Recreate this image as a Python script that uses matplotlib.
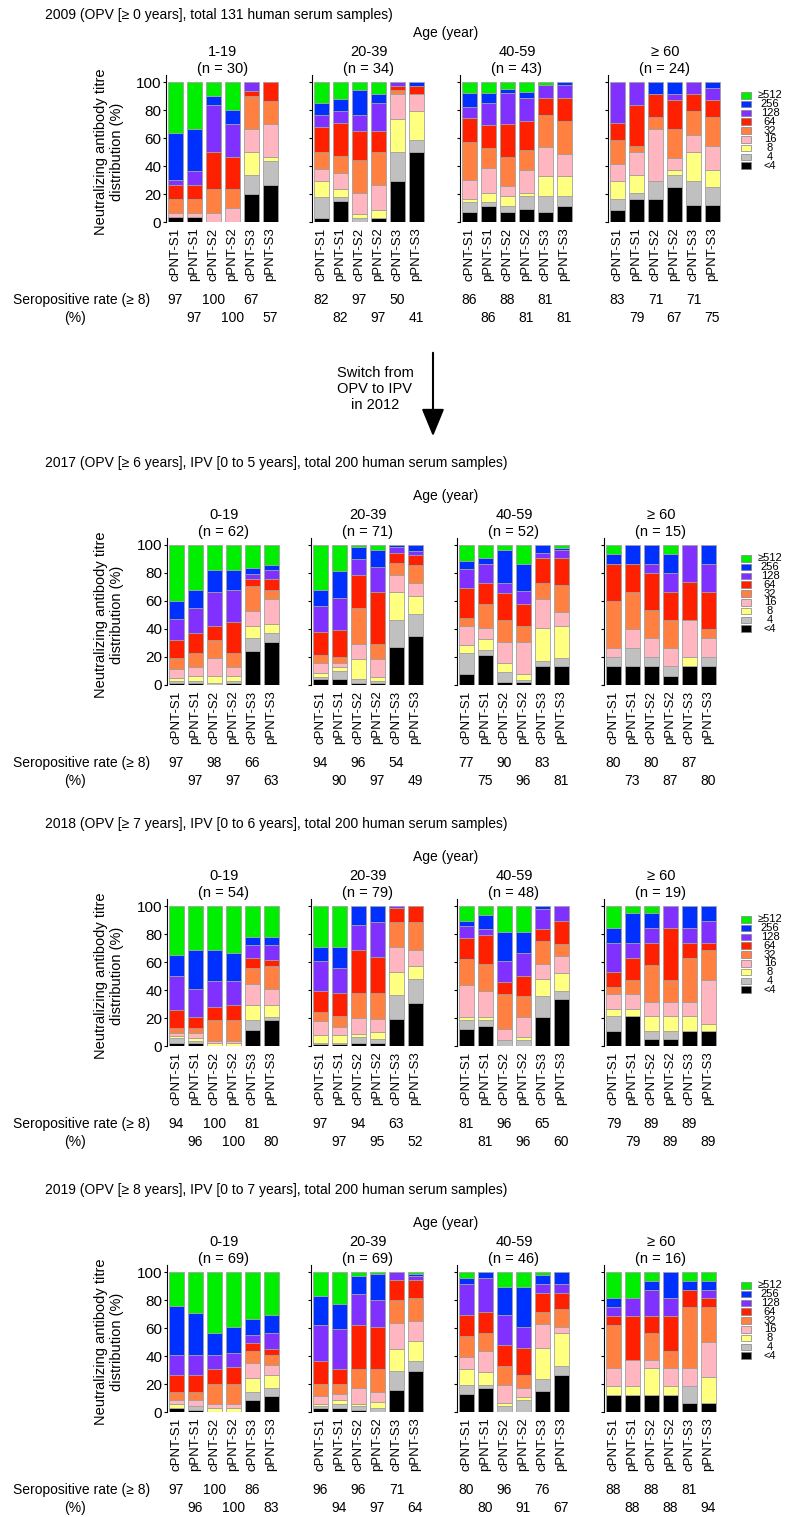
import matplotlib.pyplot as plt

plt.rcParams['font.family'] = ['Liberation Sans', 'DejaVu Sans']

W, H = 788, 1517

titres = ['<4', '4', '8', '16', '32', '64', '128', '256', '≥512']
colors = ['#000000', '#c0c0c0', '#ffff80', '#ffb6c1', '#ff8040',
          '#ff2000', '#8030ff', '#0030ff', '#00ee00']
strains = ['cPNT-S1', 'pPNT-S1', 'cPNT-S2', 'pPNT-S2', 'cPNT-S3', 'pPNT-S3']

# cumulative % of samples at or below each titre (<4, 4, 8, 16, 32, 64, 128, 256); the rest is >=512
c2009_1 = [[3.3, 3.3, 3.3, 6.7, 16.7, 26.7, 30.0, 63.3],
           [3.3, 3.3, 3.3, 6.7, 16.7, 26.7, 36.7, 66.7],
           [0, 0, 0, 6.7, 23.3, 50.0, 83.3, 90.0],
           [0, 0, 0, 10.0, 23.3, 46.7, 70.0, 80.0],
           [20.0, 33.3, 50.0, 66.7, 90.0, 93.3, 100, 100],
           [26.7, 43.3, 46.7, 70.0, 86.7, 100, 100, 100]]
c2009_2 = [[2.9, 17.6, 29.4, 38.2, 50.0, 67.6, 76.5, 85.3],
           [14.7, 17.6, 23.5, 35.3, 47.1, 70.6, 79.4, 88.2],
           [0, 2.9, 5.9, 20.6, 44.1, 64.7, 76.5, 94.1],
           [2.9, 2.9, 8.8, 26.5, 50.0, 64.7, 85.3, 91.2],
           [29.4, 50.0, 73.5, 91.2, 94.1, 97.1, 100, 100],
           [50.0, 58.8, 79.4, 91.2, 91.2, 97.1, 97.1, 100]]
c2009_3 = [[7.0, 14.0, 16.3, 30.2, 57.4, 74.0, 82.4, 91.9],
           [11.6, 14.0, 20.9, 38.8, 53.0, 69.3, 84.8, 91.9],
           [7.0, 11.6, 18.6, 25.6, 46.5, 69.8, 91.9, 95.3],
           [9.3, 18.6, 20.9, 37.2, 51.2, 72.1, 88.4, 93.0],
           [7.0, 18.6, 32.6, 53.5, 76.7, 88.4, 97.7, 97.7],
           [11.6, 18.6, 32.6, 48.8, 72.1, 88.4, 97.7, 100]]
c2009_4 = [[8.3, 16.7, 29.2, 41.7, 58.3, 70.8, 100, 100],
           [16.7, 20.8, 33.3, 50.0, 54.2, 83.3, 100, 100],
           [16.7, 29.2, 29.2, 66.7, 75.0, 91.7, 91.7, 100],
           [25.0, 33.3, 37.5, 45.8, 66.7, 87.5, 91.7, 100],
           [12.5, 29.2, 50.0, 62.5, 79.2, 91.7, 100, 100],
           [12.5, 25.0, 37.5, 54.2, 75.0, 87.5, 95.8, 100]]

c2017_1 = [[1.6, 3.2, 4.8, 11.3, 19.4, 32.3, 46.8, 59.7],
           [1.6, 3.2, 6.5, 12.9, 22.6, 37.1, 54.8, 67.7],
           [0, 1.6, 6.5, 19.4, 32.3, 41.9, 66.1, 82.3],
           [1.6, 3.2, 6.5, 12.9, 22.6, 45.2, 67.7, 82.3],
           [24.2, 33.9, 41.9, 53.2, 70.5, 75.8, 79.0, 83.9],
           [30.6, 37.1, 43.5, 61.3, 67.7, 75.8, 82.3, 85.5]]
c2017_2 = [[4.2, 5.6, 8.5, 15.5, 21.1, 38.0, 56.3, 67.6],
           [4.2, 9.9, 12.7, 15.5, 19.7, 39.4, 62.0, 81.7],
           [1.4, 4.2, 18.3, 29.6, 54.9, 78.9, 90.1, 98.6],
           [1.4, 2.8, 5.6, 18.3, 29.6, 66.2, 84.5, 96.2],
           [26.8, 46.5, 66.2, 78.9, 87.3, 94.4, 98.6, 100],
           [35.2, 50.7, 63.4, 73.2, 85.9, 93.0, 95.8, 100]]
c2017_3 = [[7.7, 23.1, 28.8, 42.3, 48.1, 69.2, 82.7, 88.5],
           [21.2, 25.0, 32.7, 40.4, 57.7, 73.1, 86.5, 90.4],
           [1.9, 9.6, 15.4, 30.8, 46.2, 65.4, 73.1, 96.2],
           [1.9, 3.8, 7.7, 30.8, 42.3, 57.7, 67.3, 86.5],
           [13.5, 17.3, 40.4, 61.5, 73.1, 90.4, 94.2, 100],
           [13.5, 19.2, 42.3, 51.9, 71.2, 90.4, 96.2, 98.1]]
c2017_4 = [[13.3, 20.0, 20.0, 26.7, 60.0, 86.7, 86.7, 93.3],
           [13.3, 26.7, 26.7, 40.0, 66.7, 86.7, 86.7, 100],
           [13.3, 20.0, 20.0, 33.3, 53.3, 80.0, 86.7, 100],
           [6.7, 13.3, 13.3, 26.7, 46.7, 66.7, 80.0, 93.3],
           [13.3, 13.3, 20.0, 46.7, 46.7, 73.3, 100, 100],
           [13.3, 20.0, 20.0, 33.3, 40.0, 66.7, 86.7, 100]]

c2018_1 = [[1.9, 5.6, 7.4, 9.3, 13.0, 25.9, 50.0, 64.8],
           [1.9, 3.7, 5.6, 9.3, 13.0, 20.4, 40.7, 68.5],
           [0, 0, 1.9, 3.7, 18.5, 27.8, 46.3, 68.5],
           [0, 0, 1.9, 3.7, 18.5, 29.6, 46.3, 66.7],
           [11.1, 18.5, 29.6, 44.4, 55.6, 63.0, 72.2, 77.8],
           [18.5, 20.4, 29.6, 40.7, 57.4, 61.1, 72.2, 77.8]]
c2018_2 = [[1.3, 2.5, 7.6, 17.7, 24.1, 39.2, 60.8, 70.9],
           [1.3, 2.5, 7.6, 13.9, 21.5, 38.0, 55.7, 70.9],
           [2.5, 6.3, 8.9, 20.3, 38.0, 68.4, 86.1, 100],
           [2.5, 5.1, 10.1, 19.0, 38.0, 63.3, 88.6, 100],
           [19.0, 36.7, 53.2, 70.9, 88.6, 98.7, 100, 100],
           [30.4, 48.1, 57.0, 68.4, 88.6, 100, 100, 100]]
c2018_3 = [[12.5, 18.8, 20.8, 43.8, 62.5, 77.1, 85.4, 89.6],
           [14.6, 18.8, 20.8, 39.6, 58.3, 79.2, 83.3, 93.8],
           [0, 4.2, 4.2, 12.5, 37.5, 45.8, 60.4, 81.3],
           [0, 4.2, 6.3, 20.8, 35.4, 50.0, 66.7, 81.3],
           [20.8, 35.4, 47.9, 58.3, 75.0, 83.3, 97.9, 100],
           [33.3, 39.6, 52.1, 64.6, 72.9, 89.6, 100, 100]]
c2018_4 = [[10.5, 21.1, 26.3, 36.8, 42.1, 52.6, 73.7, 84.2],
           [21.1, 21.1, 26.3, 36.8, 47.4, 63.2, 73.7, 94.7],
           [5.3, 10.5, 21.1, 31.6, 57.9, 73.7, 84.2, 94.7],
           [5.3, 10.5, 21.1, 31.6, 47.4, 84.2, 100, 100],
           [10.5, 10.5, 21.1, 31.6, 63.2, 73.7, 84.2, 100],
           [10.5, 10.5, 15.8, 47.4, 68.4, 73.7, 89.5, 100]]

c2019_1 = [[2.9, 2.9, 5.8, 8.7, 14.5, 26.1, 40.6, 75.4],
           [1.4, 4.3, 4.3, 8.7, 14.5, 26.1, 40.6, 71.0],
           [0, 0, 2.9, 5.8, 20.3, 30.4, 40.6, 56.5],
           [0, 0, 2.9, 5.8, 20.3, 31.9, 42.0, 60.9],
           [8.7, 14.5, 24.6, 34.8, 43.5, 49.3, 55.1, 66.7],
           [11.6, 17.4, 26.1, 33.3, 40.6, 44.9, 56.5, 69.6]]
c2019_2 = [[2.9, 4.3, 5.8, 11.6, 20.3, 36.2, 62.3, 82.6],
           [2.9, 5.8, 8.7, 13.0, 20.3, 30.4, 59.4, 76.8],
           [1.4, 4.3, 5.8, 17.4, 30.4, 62.3, 84.1, 97.1],
           [0, 2.9, 7.2, 14.5, 30.4, 60.9, 79.7, 98.6],
           [15.9, 29.0, 44.9, 63.8, 79.7, 94.2, 100, 100],
           [29.0, 36.2, 50.7, 65.2, 81.2, 94.2, 97.1, 98.6]]
c2019_3 = [[13.0, 19.6, 30.4, 39.1, 54.3, 69.6, 91.3, 95.7],
           [17.4, 19.6, 28.3, 43.5, 56.5, 71.7, 95.7, 100],
           [0, 4.3, 6.5, 19.6, 32.6, 47.8, 69.6, 89.1],
           [0, 8.7, 10.9, 17.4, 26.1, 45.7, 60.9, 89.1],
           [15.2, 23.9, 45.7, 63.0, 71.7, 84.8, 91.3, 97.8],
           [26.1, 32.6, 56.5, 60.9, 73.9, 84.8, 91.3, 100]]
c2019_4 = [[12.5, 12.5, 18.75, 31.25, 62.5, 68.75, 75.0, 81.25],
           [12.5, 12.5, 18.75, 37.5, 37.5, 68.75, 81.25, 81.25],
           [12.5, 12.5, 31.25, 37.5, 56.25, 68.75, 87.5, 93.75],
           [12.5, 12.5, 18.75, 31.25, 43.75, 68.75, 81.25, 100],
           [6.25, 18.75, 18.75, 31.25, 75.0, 87.5, 87.5, 93.75],
           [6.25, 6.25, 25.0, 50.0, 75.0, 81.25, 87.5, 93.75]]

sero_2009 = [[97, 97, 100, 100, 67, 57], [82, 82, 97, 97, 50, 41],
             [86, 86, 88, 81, 81, 81], [83, 79, 71, 67, 71, 75]]
sero_2017 = [[97, 97, 98, 97, 66, 63], [94, 90, 96, 97, 54, 49],
             [77, 75, 90, 96, 83, 81], [80, 73, 80, 87, 87, 80]]
sero_2018 = [[94, 96, 100, 100, 81, 80], [97, 97, 94, 95, 63, 52],
             [81, 81, 96, 96, 65, 60], [79, 79, 89, 89, 89, 89]]
sero_2019 = [[97, 96, 100, 100, 86, 83], [96, 94, 96, 97, 71, 64],
             [80, 80, 96, 91, 76, 67], [88, 88, 88, 88, 81, 94]]

ages_2009 = ['1-19', '20-39', '40-59', '≥ 60']
ages_later = ['0-19', '20-39', '40-59', '≥ 60']
n_2009 = [30, 34, 43, 24]
n_2017 = [62, 71, 52, 15]
n_2018 = [54, 79, 48, 19]
n_2019 = [69, 69, 46, 16]

titles = ['2009 (OPV [≥ 0 years], total 131 human serum samples)',
          '2017 (OPV [≥ 6 years], IPV [0 to 5 years], total 200 human serum samples)',
          '2018 (OPV [≥ 7 years], IPV [0 to 6 years], total 200 human serum samples)',
          '2019 (OPV [≥ 8 years], IPV [0 to 7 years], total 200 human serum samples)']

panels = [
    (titles[0], ages_2009, n_2009, [c2009_1, c2009_2, c2009_3, c2009_4], sero_2009),
    (titles[1], ages_later, n_2017, [c2017_1, c2017_2, c2017_3, c2017_4], sero_2017),
    (titles[2], ages_later, n_2018, [c2018_1, c2018_2, c2018_3, c2018_4], sero_2018),
    (titles[3], ages_later, n_2019, [c2019_1, c2019_2, c2019_3, c2019_4], sero_2019),
]

# layout in pixels
tops = [82, 545, 906, 1272]          # y of the 100 % line
title_y = [15, 463, 824, 1190]
ax_lefts = [[166, 312, 460, 608], [167, 311, 457, 604],
            [167, 311, 457, 604], [167, 311, 457, 604]]
ax_w, ax_h = 114, 140

fig = plt.figure(figsize=(W / 100, H / 100), dpi=100)
ov = fig.add_axes([0, 0, 1, 1])
ov.set_xlim(0, W)
ov.set_ylim(H, 0)
ov.axis('off')

for p, (title, ages, ns, groups, rates) in enumerate(panels):
    top = tops[p]
    ov.text(45, title_y[p], title, fontsize=10, va='center', ha='left')
    ov.text(446, top - 49, 'Age (year)', fontsize=10, va='center', ha='center')
    ov.text(109, top + 70, 'Neutralizing antibody titre\ndistribution (%)', fontsize=10.5,
            rotation=90, va='center', ha='center', linespacing=1.2)
    ov.text(13, top + 218, 'Seropositive rate (≥ 8)', fontsize=10, va='center', ha='left')
    ov.text(75, top + 236, '(%)', fontsize=10, va='center', ha='center')

    for g in range(4):
        left = ax_lefts[p][g]
        ext = 7
        ax = fig.add_axes([left / W, 1 - (top + ax_h) / H, ax_w / W, (ax_h + ext) / H])
        cum = groups[g]
        for k in range(9):
            lows = [0 if k == 0 else c[k - 1] for c in cum]
            highs = [100 if k == 8 else c[k] for c in cum]
            for i in range(6):
                h = highs[i] - lows[i]
                if h > 0:
                    ax.bar(i, h, bottom=lows[i], width=0.8, color=colors[k],
                           edgecolor='#a0a0a0', linewidth=0.6)
        ax.set_xlim(-0.5, 5.5)
        ax.set_ylim(0, 100 * (ax_h + ext) / ax_h)
        for s in ['top', 'right', 'bottom']:
            ax.spines[s].set_visible(False)
        ax.spines['left'].set_linewidth(0.8)
        ax.set_yticks([0, 20, 40, 60, 80, 100])
        if g == 0:
            ax.set_yticklabels(['0', '20', '40', '60', '80', '100'])
        else:
            ax.set_yticklabels([])
        ax.tick_params(axis='y', length=2.5, width=0.8, labelsize=11, pad=1)
        ax.set_xticks(range(6))
        ax.set_xticklabels(strains, rotation=90, fontsize=9.5)
        ax.tick_params(axis='x', length=0, pad=4)
        ax.patch.set_alpha(0)

        cx = left + ax_w / 2
        ov.text(cx, top - 30, ages[g], fontsize=10.5, ha='center', va='center')
        ov.text(cx, top - 13, f'(n = {ns[g]})', fontsize=10.5, ha='center', va='center')

        for i in range(6):
            bx = left + 19 * (i + 0.5)
            by = top + 218 if i % 2 == 0 else top + 236
            ov.text(bx, by, str(rates[g][i]), fontsize=10, ha='center', va='center')

    # legend
    for k in range(9):
        y0 = top + 10 + 8.8 * k
        idx = 8 - k
        ov.add_patch(plt.Rectangle((741, y0), 10, 6.5, facecolor=colors[idx],
                                   edgecolor='#808080', linewidth=0.5))
        ov.text(770, y0 + 3.3, titres[idx], fontsize=8, ha='center', va='center')

# arrow between 2009 and 2017
ov.annotate('', xy=(433, 439), xytext=(433, 350),
            arrowprops=dict(arrowstyle='-|>,head_length=0.85,head_width=0.35',
                            color='black', lw=1.5, mutation_scale=20))
ov.text(375, 389, 'Switch from\nOPV to IPV\nin 2012', fontsize=10.5, ha='center',
        va='center', linespacing=1.2)

fig.savefig('out.png', dpi=100)
